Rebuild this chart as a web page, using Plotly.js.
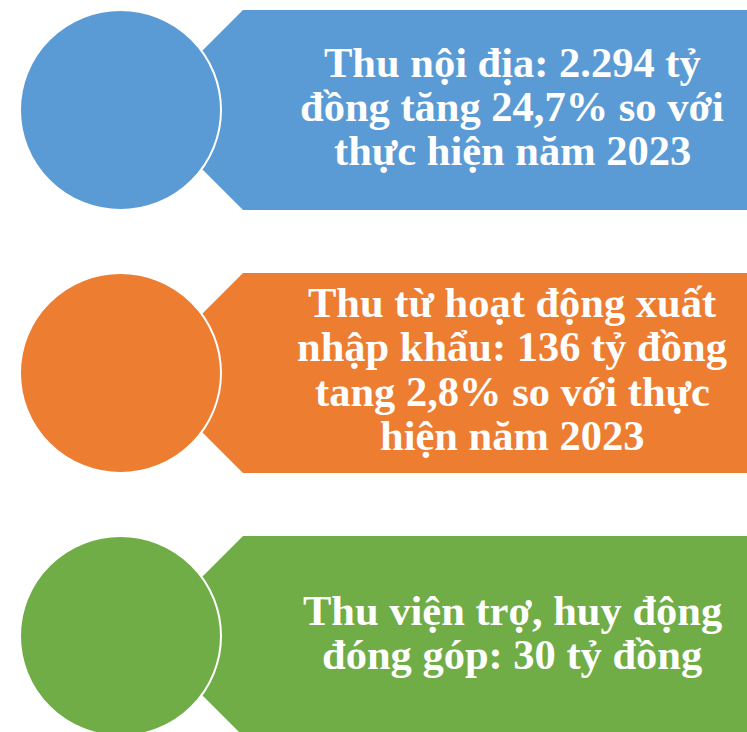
<!DOCTYPE html>
<html>
<head>
<meta charset="utf-8">
<script src="https://cdn.plot.ly/plotly-3.0.1.min.js"></script>
<style>html,body{margin:0;padding:0;background:#fff;}#chart{width:747px;height:732px;}</style>
</head>
<body>
<div id="chart"></div>
<script>
// ---- content ----
const categories = ["Thu nội địa", "Thu từ hoạt động xuất nhập khẩu", "Thu viện trợ, huy động đóng góp"];
const lines1 = ["Thu nội địa: 2.294 tỷ", "đồng tăng 24,7% so với", "thực hiện năm 2023"];
const lines2 = ["Thu từ hoạt động xuất", "nhập khẩu: 136 tỷ đồng", "tang 2,8% so với thực", "hiện năm 2023"];
const lines3 = ["Thu viện trợ, huy động", "đóng góp: 30 tỷ đồng"];
const colors = ["#5B9BD5", "#ED7D31", "#70AD47"];

// ---- layout geometry ----
const W = 747, H = 732;
const rowTop = [10, 273, 536];
const rowH = 200;
const circleX0 = 20, circleX1 = 221;
const bannerX = 243, bannerTip = 143;
const textX = 512;
const lineGap = [44, 44.5, 44];
const fontSize = 42.5;

const allLines = [lines1, lines2, lines3];
const shapes = [];
const annotations = [];

rowTop.forEach((t, i) => {
  const b = t + rowH, c = t + rowH / 2;
  shapes.push({
    type: 'path', xref: 'x', yref: 'y',
    path: `M ${bannerX} ${t} L ${W + 5} ${t} L ${W + 5} ${b} L ${bannerX} ${b} L ${bannerTip} ${c} Z`,
    fillcolor: colors[i], line: {width: 0}, layer: 'above'
  });
  shapes.push({
    type: 'circle', xref: 'x', yref: 'y',
    x0: circleX0, x1: circleX1, y0: t, y1: b,
    fillcolor: colors[i], line: {color: '#ffffff', width: 2}, layer: 'above'
  });
  const L = allLines[i];
  const n = L.length;
  L.forEach((txt, k) => {
    const mid = c - 4 + (k - (n - 1) / 2) * lineGap[i];
    annotations.push({
      x: textX, y: mid, xref: 'x', yref: 'y',
      text: '<b>' + txt + '</b>', showarrow: false,
      xanchor: 'center', yanchor: 'middle',
      font: {family: 'Liberation Serif, Times New Roman, serif', size: fontSize, color: '#ffffff'}
    });
  });
});

const layout = {
  width: W, height: H,
  margin: {l: 0, r: 0, t: 0, b: 0},
  paper_bgcolor: '#ffffff', plot_bgcolor: '#ffffff',
  xaxis: {range: [0, W], visible: false, fixedrange: true},
  yaxis: {range: [H, 0], visible: false, fixedrange: true},
  showlegend: false,
  shapes: shapes,
  annotations: annotations
};

Plotly.newPlot('chart', [{x: [], y: [], type: 'scatter', name: categories[0]}], layout, {displayModeBar: false, staticPlot: true});
</script>
</body>
</html>
